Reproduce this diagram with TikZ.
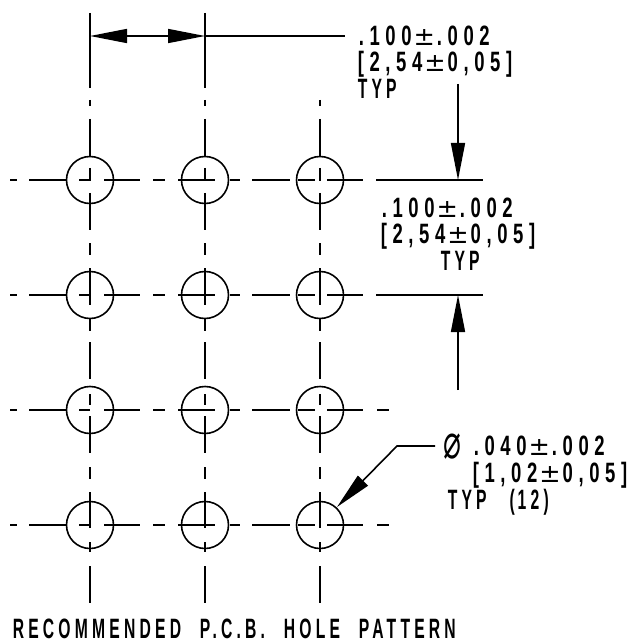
\documentclass[tikz,border=0pt]{standalone}
\usepackage{fontspec}
\newfontfamily\dimfont{Liberation Sans}[FakeStretch=0.66,LetterSpace=20]
\newfontfamily\capsfont{Liberation Sans}[FakeStretch=0.56,LetterSpace=15,WordSpace=2.2]
\newfontfamily\symbolfont{DejaVu Sans}
\newfontfamily\phifont{DejaVu Sans}[FakeStretch=0.62]
\usetikzlibrary{arrows.meta}
\newcommand{\plusminus}{{\normalfont\fontsize{25.5pt}{25.5pt}\symbolfont\hspace{2pt}±\hspace{2pt}}}
\tikzset{
  dimtext/.style={anchor=base west, inner sep=0pt, font=\fontsize{28pt}{28pt}\dimfont\bfseries},
  capstext/.style={anchor=base west, inner sep=0pt, font=\fontsize{28pt}{28pt}\capsfont\bfseries},
  dimarrow/.style={-{Triangle[length=37pt,width=14pt]}},
}
\begin{document}
\begin{tikzpicture}[x=1pt, y=-1pt, line width=1.6pt]
\useasboundingbox (0,0) rectangle (634,644);
% holes
\foreach \u in {90,205,320}
\foreach \v in {180,295,410,525}
\draw (\u, \v) circle (23.5);
% vertical centre lines
\foreach \u in {90,205,320}
\foreach \v/\w in {100/106,119/156,168/181,193/230,243/255,268/305,318/331,342/379,394/405,416/453,467/479,492/528,542/552,566/603}
\draw (\u, \v) -- (\u, \w);
\foreach \u in {90,205}
\draw (\u, 13) -- (\u, 88);
% horizontal centre lines
\foreach \v in {180,295,410,525}
\foreach \u/\w in {10/17,29/66,79/90,104/140,153/165,178/215,230/240,252/290,298/315,327/363}
\draw (\u, \v) -- (\w, \v);
\foreach \v in {180,295}
\draw (376, \v) -- (483, \v);
\foreach \v in {410,525}
\draw (377, \v) -- (389, \v);
% dimension arrows
\coordinate (pitchleft) at (90,36);
\coordinate (pitchright) at (205,36);
\coordinate (pitchend) at (345,36);
\coordinate (rowtop) at (458,180);
\coordinate (rowbottom) at (458,295);
\coordinate (rowtopstart) at (458,84);
\coordinate (rowbottomstart) at (458,390);
\coordinate (holeedge) at (337,507);
\coordinate (holeknee) at (397,446);
\coordinate (holeend) at (435,446);
\draw[{Triangle[length=37pt,width=14pt]}-{Triangle[length=37pt,width=14pt]}] (pitchleft) -- (pitchright);
\draw (pitchright) -- (pitchend);
\draw[dimarrow] (rowtopstart) -- (rowtop);
\draw[dimarrow] (rowbottomstart) -- (rowbottom);
\draw[dimarrow] (holeend) -- (holeknee) -- (holeedge);
% labels
\node[dimtext] (pitcha) at (358,46) {.100\plusminus.002};
\node[dimtext] (pitchb) at (357,72) {[2,54\plusminus0,05]};
\node[capstext] (pitchc) at (357,99) {TYP};
\node[dimtext] (rowa) at (381,217) {.100\plusminus.002};
\node[dimtext] (rowb) at (380,243) {[2,54\plusminus0,05]};
\node[capstext] (rowc) at (440,270) {TYP};
\node[dimtext, font=\fontsize{48pt}{48pt}\phifont] (diama) at (443,458) {⌀};
\node[dimtext] (diamb) at (473,455) {.040\plusminus.002};
\node[dimtext] (diamc) at (472,482) {[1,02\plusminus0,05]};
\node[capstext] (diamd) at (447,509) {TYP\hspace{4pt} (\hspace{3pt}12)};
\node[capstext] (title) at (12,638) {RECOMMENDED P.C.B. HOLE PATTERN};
\end{tikzpicture}
\end{document}
